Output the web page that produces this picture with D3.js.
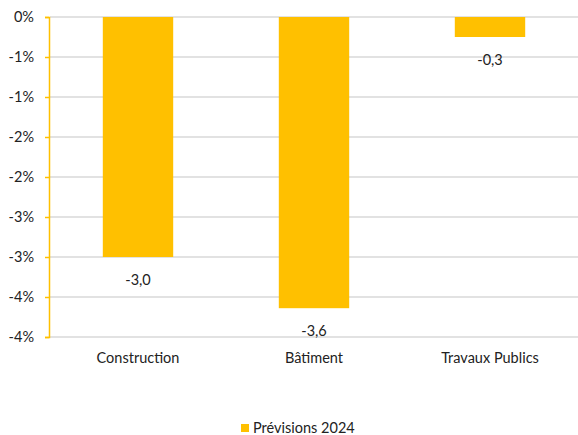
<!DOCTYPE html>
<html><head><meta charset="utf-8">
<script src="https://cdn.jsdelivr.net/npm/d3@7"></script>
<style>body{margin:0;background:#fff;}svg{display:block;font-family:Lato,"Liberation Sans",sans-serif;}</style>
</head><body>
<svg id="c" width="578" height="435"></svg>
<script>
const categories = ["Construction", "Bâtiment", "Travaux Publics"];
const values = [-3.0, -3.64, -0.25];
const valueLabels = ["-3,0", "-3,6", "-0,3"];
const yTicks = [0, -0.5, -1, -1.5, -2, -2.5, -3, -3.5, -4];
const seriesName = "Prévisions 2024";

const svg = d3.select("#c");
const m = {left: 50, right: 0, top: 17, bottom: 98};
const W = 578, H = 435;
const x = d3.scaleBand().domain(categories).range([m.left, W - m.right]).paddingInner(0.6).paddingOuter(0.3);
const y = d3.scaleLinear().domain([-4, 0]).range([H - m.bottom, m.top]);
const gold = "#FFC000";
const fs = 14.5;

// gridlines
svg.append("g").selectAll("line").data(yTicks).join("line")
  .attr("x1", m.left).attr("x2", W).attr("y1", d => y(d)).attr("y2", d => y(d))
  .attr("stroke", "#d9d9d9").attr("stroke-width", 1.5);

// bars
svg.append("g").selectAll("rect").data(values).join("rect")
  .attr("x", (d, i) => x(categories[i])).attr("width", x.bandwidth())
  .attr("y", y(0)).attr("height", d => y(d) - y(0)).attr("fill", gold);

// y axis (Excel-style rounded percent labels)
const yAxis = d3.axisLeft(y).tickValues(yTicks).tickSize(4).tickPadding(11)
  .tickFormat(d => (d === 0 ? "0" : "-" + Math.round(Math.abs(d))) + "%");
const ga = svg.append("g").attr("transform", `translate(${m.left - 1},0)`).call(yAxis);
ga.select(".domain").attr("stroke", gold).attr("stroke-width", 1.5);
ga.selectAll(".tick line").attr("stroke", gold).attr("stroke-width", 1.5);
ga.selectAll(".tick text").attr("fill", "#222").attr("font-size", fs).attr("font-family", "Lato,'Liberation Sans',sans-serif");

// value labels
svg.append("g").selectAll("text").data(values).join("text")
  .attr("x", (d, i) => x(categories[i]) + x.bandwidth() / 2)
  .attr("y", d => y(d) + 28)
  .attr("text-anchor", "middle").attr("font-size", fs).attr("fill", "#222")
  .text((d, i) => valueLabels[i]);

// category labels
svg.append("g").selectAll("text").data(categories).join("text")
  .attr("x", d => x(d) + x.bandwidth() / 2).attr("y", 363)
  .attr("text-anchor", "middle").attr("font-size", fs).attr("fill", "#222")
  .text(d => d);

// legend
const lg = svg.append("g");
lg.append("rect").attr("x", 241).attr("y", 424).attr("width", 8).attr("height", 8).attr("fill", gold);
lg.append("text").attr("x", 253).attr("y", 433).attr("font-size", fs).attr("fill", "#222").text(seriesName);
</script>
</body></html>
